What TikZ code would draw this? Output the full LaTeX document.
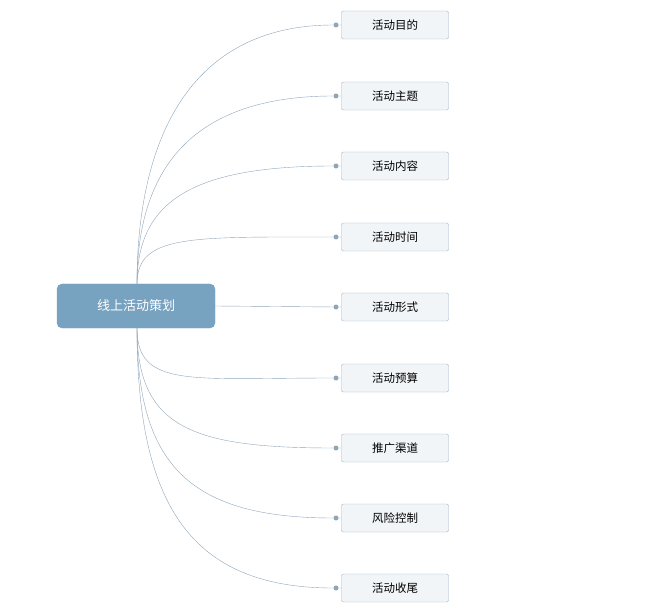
\documentclass[tikz,border=0pt]{standalone}
\usepackage{fontspec}
\setmainfont{Noto Sans CJK SC}
\definecolor{rootfill}{HTML}{77A2C0}
\definecolor{leaffill}{HTML}{F2F5F8}
\definecolor{leafline}{HTML}{9DB4C6}
\definecolor{wire}{HTML}{8FA6B8}
\tikzset{
  rootblock/.style={draw=rootfill, fill=rootfill, rounded corners=5pt, text=white, font=\fontsize{13}{15}\selectfont, minimum width=158pt, minimum height=44pt, inner sep=0pt},
  leafblock/.style={draw=leafline, fill=leaffill, rounded corners=2pt, font=\fontsize{11.5}{13}\selectfont, minimum width=107pt, minimum height=28pt, inner sep=0pt},
  branch/.style={wire, thin},
  tip/.style={circle, fill=wire, inner sep=0pt, minimum size=5pt}
}
\begin{document}
\begin{tikzpicture}[x=1pt,y=-1pt]
  \useasboundingbox (0,0) rectangle (653,612);
  \node[rootblock] (root) at (136,306) {线上活动策划};
  \foreach \name/\txt/\y in {a/活动目的/25, b/活动主题/96, c/活动内容/166, d/活动时间/237,
      e/活动形式/307, f/活动预算/378, g/推广渠道/448, h/风险控制/518, i/活动收尾/588} {
    \node[leafblock] (\name) at (395,\y) {\txt};
    \node[tip] (\name dot) at (336,\y) {};
  }
  \draw[branch] (root.east) -- (edot) -- (e);
  % upper branches
  \foreach \name/\y in {a/25,b/96,c/166,d/237}
    \draw[branch] (137,284) .. controls (137,{0.45*(284+\y)}) and (190,\y) .. (\name dot) -- (\name);
  % lower branches
  \foreach \name/\y in {f/378,g/448,h/518,i/588}
    \draw[branch] (137,328) .. controls (137,{0.45*(328+\y)+0.1*328+0.1*\y}) and (190,\y) .. (\name dot) -- (\name);
\end{tikzpicture}
\end{document}
